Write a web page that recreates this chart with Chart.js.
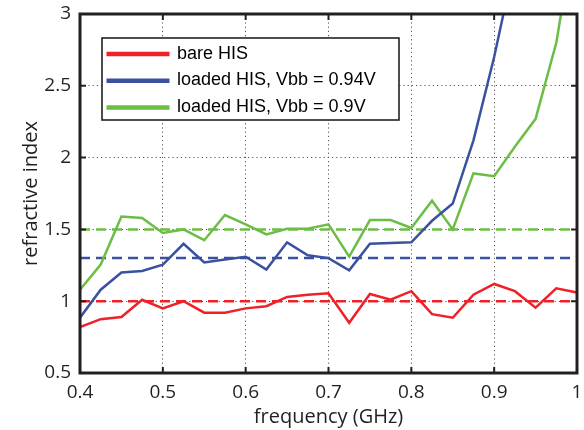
<!DOCTYPE html>
<html><head><meta charset="utf-8">
<script src="https://cdn.jsdelivr.net/npm/chart.js@4"></script>
<style>html,body{margin:0;padding:0;background:#fff}#wrap{width:584px;height:430px;position:relative}</style>
</head><body><div id="wrap"><canvas id="c" width="584" height="430"></canvas></div>
<script>
const freqGHz = [0.4,0.425,0.45,0.475,0.5,0.525,0.55,0.575,0.6,0.625,0.65,0.675,0.7,0.725,0.75,0.775,0.8,0.825,0.85,0.875,0.9,0.925,0.95,0.975,1.0];
const bareHIS = [0.82,0.875,0.89,1.01,0.95,1.0,0.92,0.92,0.95,0.965,1.03,1.045,1.055,0.85,1.05,1.01,1.07,0.91,0.885,1.045,1.12,1.07,0.955,1.09,1.06];
const loadedHIS094 = [0.885,1.08,1.2,1.21,1.255,1.40,1.27,1.29,1.31,1.22,1.41,1.32,1.30,1.215,1.40,1.405,1.41,1.56,1.68,2.12,2.70,3.37,null,null,null];
const loadedHIS090 = [1.08,1.255,1.59,1.58,1.475,1.50,1.425,1.60,1.535,1.465,1.505,1.505,1.535,1.31,1.565,1.565,1.51,1.70,1.50,1.89,1.87,2.075,2.27,2.80,3.67];
const refLevelBare = 1.0;
const refLevel094 = 1.3;
const refLevel090 = 1.5;
const seriesLabels = ["bare HIS","loaded HIS, Vbb = 0.94V","loaded HIS, Vbb = 0.9V"];
const xTickValues = [0.4,0.5,0.6,0.7,0.8,0.9,1];
const xTickLabels = ["0.4","0.5","0.6","0.7","0.8","0.9","1"];
const yTickValues = [0.5,1,1.5,2,2.5,3];
const yTickLabels = ["0.5","1","1.5","2","2.5","3"];
const xTitle = "frequency (GHz)";
const yTitle = "refractive index";

const RED = '#ed2127', BLUE = '#3a51a2', GREEN = '#6cbd45';
const pts = arr => freqGHz.map((f,i)=>({x:f,y:arr[i]}));
const refLine = v => [{x:freqGHz[0],y:v},{x:freqGHz[freqGHz.length-1],y:v}];

const solid = (label,data,color) => ({label,data:pts(data),borderColor:color,borderWidth:2.5,pointRadius:0,tension:0,fill:false,clip:0,showInLegend:true,spanGaps:false});
const dashed = (v,color) => ({label:'ref',data:refLine(v),borderColor:color,borderWidth:2.5,borderDash:[10,6],pointRadius:0,fill:false,clip:0,showInLegend:false});

const tickFont = {family:'"Open Sans"', size:19};
const titleFont = {family:'"Open Sans"', size:20};

const framePlugin = {
  id:'frame',
  afterDatasetsDraw(chart){
    const {ctx, chartArea:a, scales:{x,y}} = chart;
    ctx.save();
    ctx.strokeStyle = '#231f20';
    ctx.lineWidth = 2;
    ctx.beginPath();
    xTickValues.forEach(v=>{const p=x.getPixelForValue(v);ctx.moveTo(p,a.bottom);ctx.lineTo(p,a.bottom-6);ctx.moveTo(p,a.top);ctx.lineTo(p,a.top+6);});
    yTickValues.forEach(v=>{const p=y.getPixelForValue(v);ctx.moveTo(a.left,p);ctx.lineTo(a.left+6,p);ctx.moveTo(a.right,p);ctx.lineTo(a.right-6,p);});
    ctx.stroke();
    ctx.lineWidth = 3;
    ctx.strokeRect(a.left,a.top,a.right-a.left,a.bottom-a.top);
    ctx.restore();
  },
  afterDraw(chart){
    const {ctx, chartArea:a} = chart;
    const items = chart.data.datasets.filter(d=>d.showInLegend);
    const bx = a.left+22, by = a.top+24, bw = 297, bh = 82;
    ctx.save();
    ctx.fillStyle = '#fff';
    ctx.fillRect(bx,by,bw,bh);
    ctx.strokeStyle = '#222';
    ctx.lineWidth = 1.6;
    ctx.strokeRect(bx,by,bw,bh);
    ctx.font = '18px "Liberation Sans"';
    ctx.textBaseline = 'alphabetic';
    ctx.fillStyle = '#000';
    items.forEach((d,i)=>{
      const base = by + 20.5 + i*26.7;
      ctx.strokeStyle = d.borderColor;
      ctx.lineWidth = 4.5;
      ctx.beginPath();
      ctx.moveTo(bx+4.5, base-4.5); ctx.lineTo(bx+67.5, base-4.5);
      ctx.stroke();
      ctx.fillText(d.label, bx+75, base);
    });
    ctx.restore();
  }
};

new Chart(document.getElementById('c'), {
  type:'line',
  data:{datasets:[
    solid(seriesLabels[0],bareHIS,RED),
    solid(seriesLabels[1],loadedHIS094,BLUE),
    solid(seriesLabels[2],loadedHIS090,GREEN),
    dashed(refLevelBare,RED),
    dashed(refLevel094,BLUE),
    dashed(refLevel090,GREEN)
  ]},
  options:{
    responsive:false, animation:false, devicePixelRatio:1,
    layout:{padding:{top:14,right:7,left:0,bottom:0}},
    plugins:{legend:{display:false},tooltip:{enabled:false}},
    scales:{
      x:{type:'linear',min:0.4,max:1,
        afterBuildTicks:s=>{s.ticks=xTickValues.map(v=>({value:v}));},
        afterFit:s=>{s.height=57;s.paddingLeft=0;s.paddingRight=0;},
        ticks:{callback:(v,i)=>xTickLabels[i],font:tickFont,color:'#231f20',padding:8,maxRotation:0,autoSkip:false},
        grid:{color:'#555',lineWidth:1,drawTicks:false},
        border:{display:false,dash:[1.2,3]},
        title:{display:true,text:xTitle,font:titleFont,color:'#231f20',padding:{top:0,bottom:1}}
      },
      y:{type:'linear',min:0.5,max:3,
        afterBuildTicks:s=>{s.ticks=yTickValues.map(v=>({value:v}));},
        afterFit:s=>{s.width=80;s.paddingTop=0;s.paddingBottom=0;},
        ticks:{callback:(v,i)=>yTickLabels[i],font:tickFont,color:'#231f20',padding:9,autoSkip:false},
        grid:{color:'#555',lineWidth:1,drawTicks:false},
        border:{display:false,dash:[1.2,3]},
        title:{display:true,text:yTitle,font:titleFont,color:'#231f20',padding:{top:19,bottom:0}}
      }
    }
  },
  plugins:[framePlugin]
});
</script></body></html>
